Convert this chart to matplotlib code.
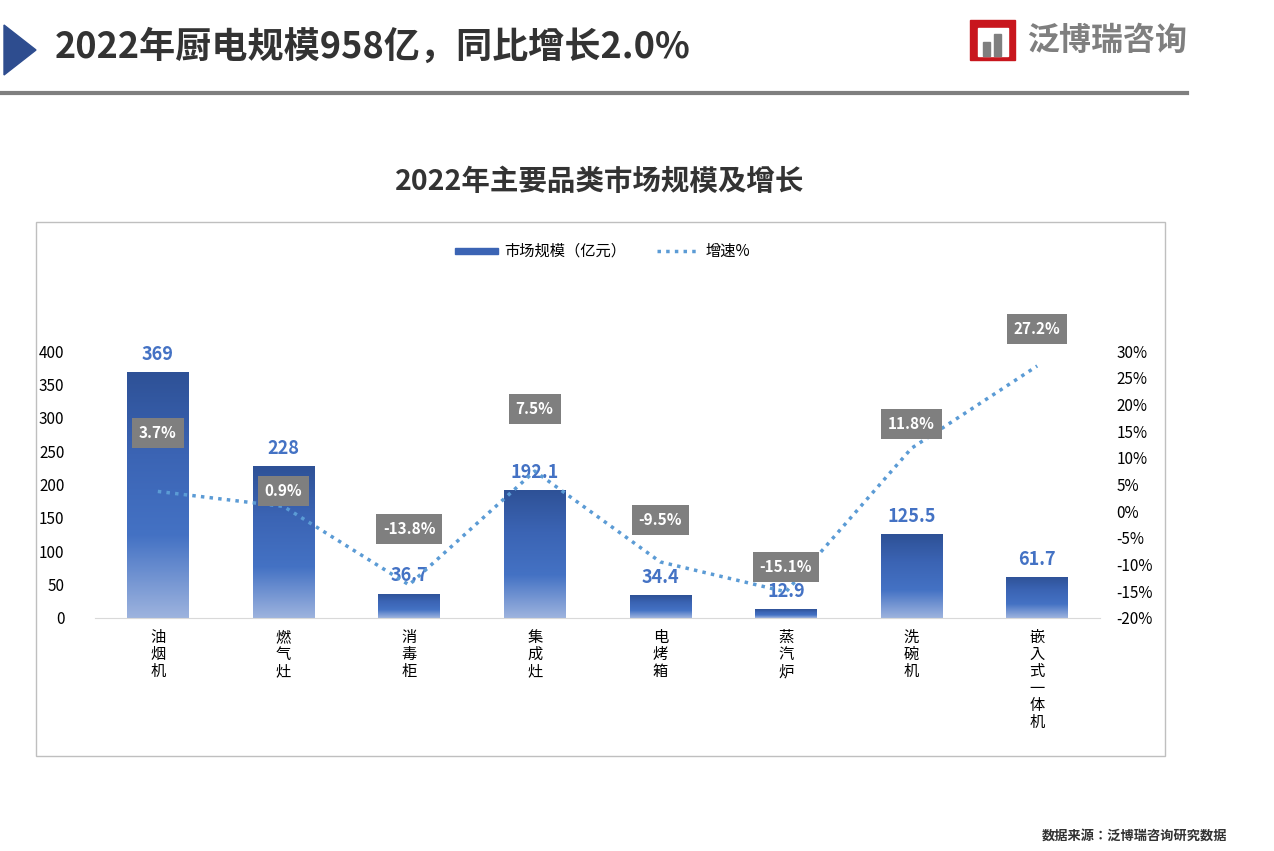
import numpy as np
import matplotlib
matplotlib.use("Agg")
import matplotlib.pyplot as plt
from matplotlib import font_manager
from matplotlib.patches import Polygon, Rectangle
from matplotlib.lines import Line2D

cjk = [f for f in font_manager.findSystemFonts() if "CJK" in f or "cjk" in f]
names = []
for f in cjk:
    try:
        font_manager.fontManager.addfont(f)
        names.append(font_manager.FontProperties(fname=f).get_name())
    except Exception:
        pass
pick = [n for n in names if "SC" in n] or names
plt.rcParams["font.family"] = (pick[:1] if pick else []) + ["Noto Sans CJK SC", "DejaVu Sans"]

categories = ["油烟机", "燃气灶", "消毒柜", "集成灶", "电烤箱", "蒸汽炉", "洗碗机", "嵌入式一体机"]
market_size = [369, 228, 36.7, 192.1, 34.4, 12.9, 125.5, 61.7]
growth = [3.7, 0.9, -13.8, 7.5, -9.5, -15.1, 11.8, 27.2]
left_ticks = [0, 50, 100, 150, 200, 250, 300, 350, 400]
right_ticks = [-20, -15, -10, -5, 0, 5, 10, 15, 20, 25, 30]
# label placement above each growth point (percent units), style only
label_offset = [10.9, 2.9, 10.5, 11.6, 7.9, 4.7, 4.5, 6.9]

fig = plt.figure(figsize=(12.74, 8.51), dpi=100)
W, H = 1274, 851

def fx(x): return x / W
def fy(y): return 1 - y / H

# header
fig.patches.append(Polygon([[fx(4), fy(25)], [fx(4), fy(75)], [fx(36), fy(50)]],
                           closed=True, color="#2e4d8f", transform=fig.transFigure))
fig.text(fx(55), fy(47), "2022年厨电规模958亿，同比增长2.0%", fontsize=26, fontweight="bold",
         color="#333333", va="center")
fig.add_artist(Line2D([0, fx(1187)], [fy(93), fy(93)], color="#7f7f7f", lw=3, transform=fig.transFigure))
# logo
fig.patches.append(Rectangle((fx(970), fy(60)), fx(45), 40 / H, color="#c8161d", transform=fig.transFigure))
fig.patches.append(Rectangle((fx(978), fy(56)), fx(30), 28 / H, color="white", transform=fig.transFigure))
fig.patches.append(Rectangle((fx(983), fy(56)), fx(7), 14 / H, color="#7f7f7f", transform=fig.transFigure))
fig.patches.append(Rectangle((fx(994), fy(56)), fx(7), 22 / H, color="#7f7f7f", transform=fig.transFigure))
fig.text(fx(1027), fy(41), "泛博瑞咨询", fontsize=23, fontweight="bold", color="#7f7f7f", va="center")

# chart box and title
fig.patches.append(Rectangle((fx(36), fy(756)), fx(1129), 534 / H, fill=False, ec="#bfbfbf", lw=1,
                             transform=fig.transFigure))
fig.text(fx(600), fy(182), "2022年主要品类市场规模及增长", fontsize=20.5, fontweight="bold",
         color="#333333", ha="center", va="center")

ax = fig.add_axes([fx(95), fy(618), fx(1005), 267 / H])
x = np.arange(len(categories))
bars = ax.bar(x, market_size, width=0.49, color="none")
cmap = matplotlib.colors.LinearSegmentedColormap.from_list("g", ["#9db3de", "#4472c4", "#3b64b4", "#2e5196"])
grad = np.linspace(0, 1, 256).reshape(-1, 1)
for b in bars:
    im = ax.imshow(grad, cmap=cmap, origin="lower", aspect="auto",
                   extent=[b.get_x(), b.get_x() + b.get_width(), 0, b.get_height()], zorder=2)
    im.set_clip_path(b)
    ax.text(b.get_x() + b.get_width() / 2, b.get_height() + 12, f"{b.get_height():g}",
            ha="center", va="bottom", fontsize=13, fontweight="bold", color="#4472c4", zorder=5)
ax.set_xlim(-0.5, len(categories) - 0.5)
ax.set_ylim(0, 400)
ax.set_yticks(left_ticks)
ax.set_xticks(x)
ax.set_xticklabels(["\n".join(c) for c in categories], fontsize=11, linespacing=1.0, va="top")
for s in ["top", "right", "left"]:
    ax.spines[s].set_visible(False)
ax.spines["bottom"].set_color("#d9d9d9")
ax.tick_params(length=0, labelsize=11, pad=8)
ax.tick_params(axis="y", pad=22)

ax2 = ax.twinx()
ax2.plot(x, growth, ls=(0, (1, 1.5)), lw=2.5, color="#5b9bd5", zorder=3)
ax2.set_ylim(-20, 30)
ax2.set_yticks(right_ticks)
ax2.set_yticklabels([f"{t}%" for t in right_ticks])
for s in ax2.spines.values():
    s.set_visible(False)
ax2.tick_params(length=0, labelsize=11, pad=12)
for xi, g, off in zip(x, growth, label_offset):
    ax2.text(xi, g + off, f"{g}%", ha="center", va="center", fontsize=11, fontweight="bold", color="white",
             bbox=dict(boxstyle="square,pad=0.45", fc="#7f7f7f", ec="none"), zorder=6, clip_on=False)

# legend
fig.patches.append(Rectangle((fx(455), fy(254)), fx(43), 6 / H, color="#3b64b4", transform=fig.transFigure))
fig.text(fx(504), fy(251), "市场规模（亿元）", fontsize=11, va="center")
fig.add_artist(Line2D([fx(657), fx(700)], [fy(251), fy(251)], ls=(0, (1, 1.5)), lw=2.5, color="#5b9bd5",
                      transform=fig.transFigure))
fig.text(fx(706), fy(251), "增速%", fontsize=11, va="center")

fig.text(fx(1227), fy(836), "数据来源：泛博瑞咨询研究数据", fontsize=9.5, fontweight="bold",
         ha="right", va="center", color="#333333")

fig.savefig("out.png", dpi=100)
